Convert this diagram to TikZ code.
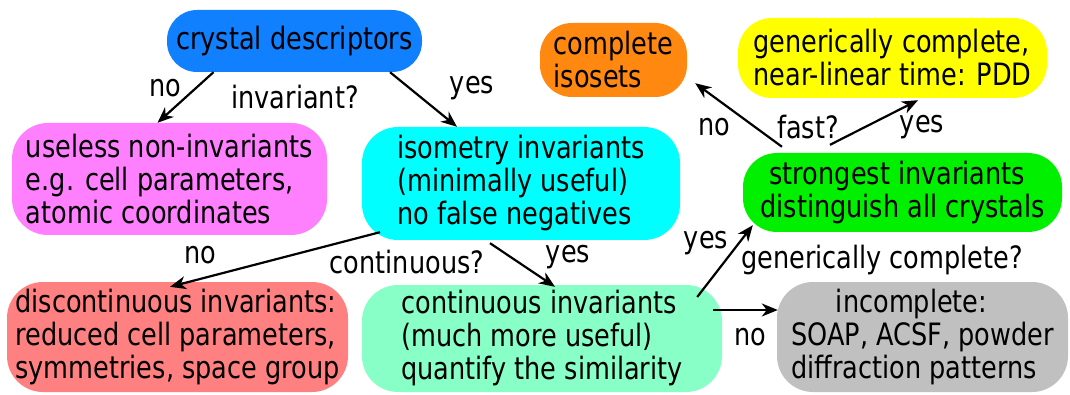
\documentclass[tikz,border=0pt]{standalone}
\usepackage{fontspec}
\setmainfont{DejaVu Sans}[FakeStretch=0.83]
\usetikzlibrary{arrows.meta}
\definecolor{descblue}{RGB}{16,128,255}
\definecolor{uselesspink}{RGB}{255,128,255}
\definecolor{isomcyan}{RGB}{0,255,255}
\definecolor{discred}{RGB}{255,128,128}
\definecolor{contgreen}{RGB}{136,255,198}
\definecolor{incgray}{RGB}{192,192,192}
\definecolor{complorange}{RGB}{255,136,16}
\definecolor{genyellow}{RGB}{255,255,0}
\definecolor{strgreen}{RGB}{0,240,0}
\tikzset{
  box/.style={rounded corners=36pt, align=left, inner sep=0pt,
    font=\fontsize{30.8}{33}\selectfont},
  lbl/.style={inner sep=0pt, font=\fontsize{30.8}{33}\selectfont},
  arr/.style={-{Stealth[length=16pt,width=13pt,inset=5pt]}, line width=2.2pt},
}
\begin{document}
\begin{tikzpicture}[x=1pt,y=-1pt]
                \useasboundingbox (0,0) rectangle (1070,395);

                \node[box, rounded corners=30pt, fill=descblue, minimum width=255pt, minimum height=62pt] (desc) at (294.5,41) {crystal descriptors};
                \node[box, fill=uselesspink, minimum width=315pt, minimum height=112pt] (useless) at (169.5,179) {useless non-invariants\\e.g. cell parameters,\\atomic coordinates};
                \node[box, fill=isomcyan, minimum width=318pt, minimum height=113pt] (isom) at (521,183.5) {isometry invariants\\(minimally useful)\\no false negatives};
                \node[box, fill=discred, minimum width=341pt, minimum height=110pt] (discont) at (177.5,337) {discontinuous invariants:\\reduced cell parameters,\\symmetries, space group};
                \node[box, fill=contgreen, minimum width=360pt, minimum height=107pt] (cont) at (542,338.5) {continuous invariants\\(much more useful)\\quantify the similarity};
                \node[box, fill=incgray, minimum width=291pt, minimum height=110pt] (incompl) at (922.5,337) {\hspace*{1.45em}incomplete:\\SOAP, ACSF, powder\\diffraction patterns};
                \node[box, rounded corners=32pt, fill=complorange, minimum width=147pt, minimum height=74pt] (complete) at (613.5,60) {complete\\isosets};
                \node[box, rounded corners=34pt, fill=genyellow, minimum width=309pt, minimum height=80pt] (gencomp) at (892.5,58) {generically complete,\\near-linear time: PDD};
                \node[box, rounded corners=34pt, fill=strgreen, minimum width=319pt, minimum height=79pt] (strong) at (902.5,192.5) {\hspace*{0.3em}strongest invariants\\distinguish all crystals};

                % questions and answers
                \node[lbl] (invq) at (295,97) {invariant?};
                \node[lbl] (invno) at (165,88) {no};
                \node[lbl] (invyes) at (472,88) {yes};
                \node[lbl] (contq) at (407,262) {continuous?};
                \node[lbl] (contno) at (200,255) {no};
                \node[lbl] (contyes) at (568,257) {yes};
                \node[lbl] (genq) at (882,260) {generically complete?};
                \node[lbl] (genyes) at (706,243) {yes};
                \node[lbl] (genno) at (750,337) {no};
                \node[lbl] (fastq) at (808,127) {fast?};
                \node[lbl] (fastno) at (714,127) {no};
                \node[lbl] (fastyes) at (922,127) {yes};

                \draw[arr] ([shift={(-81,0)}]desc.south) to ([shift={(-12,0)}]useless.north);
                \draw[arr] ([shift={(95.5,0)}]desc.south) to ([shift={(-64,0)}]isom.north);
                \draw[arr] ([shift={(-141,-8)}]isom.south) to ([shift={(-7.5,5)}]discont.north);
                \draw[arr] ([shift={(-31,3)}]isom.south) to ([shift={(13,2)}]cont.north);
                \draw[arr] ([shift={(-25,-41.5)}]cont.east) to ([shift={(10,-7)}]strong.south west);
                \draw[arr] ([shift={(-9,-28.5)}]cont.east) to ([shift={(1,-27)}]incompl.west);
                \draw[arr] ([shift={(-120.5,-6)}]strong.north) to ([shift={(8,-14)}]complete.south east);
                \draw[arr] ([shift={(-72.5,-8)}]strong.north) to ([shift={(25.5,2)}]gencomp.south);
            \end{tikzpicture}
\end{document}
